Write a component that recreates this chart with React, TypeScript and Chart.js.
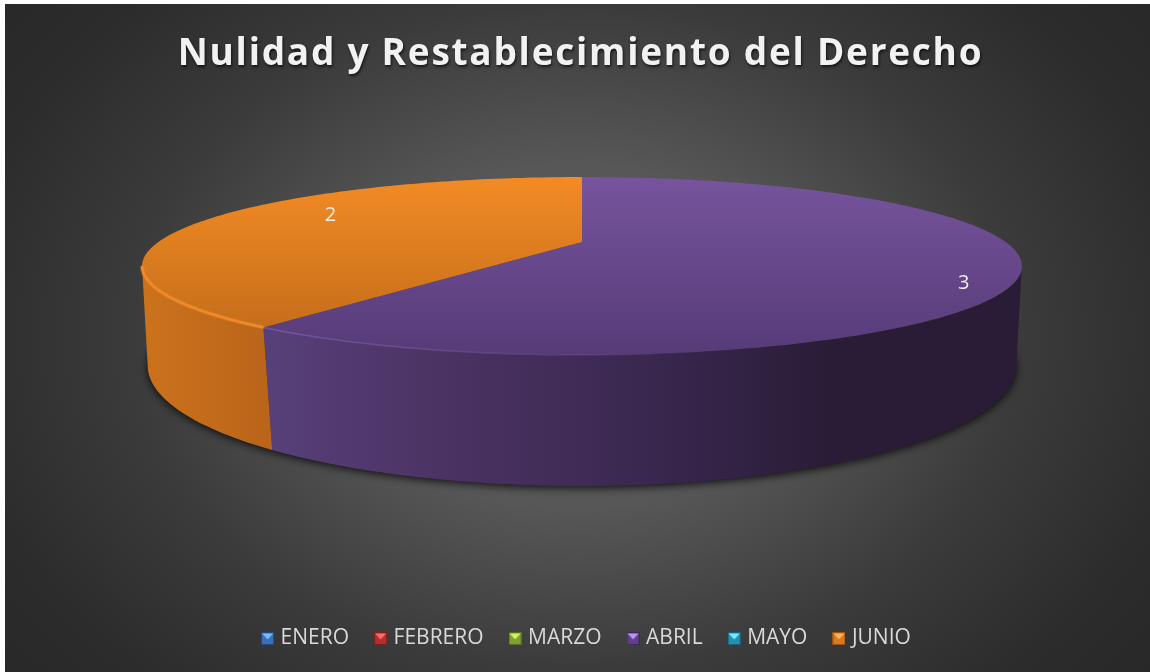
import React, { useEffect, useRef } from "react";
import { Chart, registerables } from "chart.js";

Chart.register(...registerables);

const months = ["ENERO", "FEBRERO", "MARZO", "ABRIL", "MAYO", "JUNIO"];
const counts = [0, 0, 0, 3, 0, 2];
const chartTitle = "Nulidad y Restablecimiento del Derecho";

const baseColors = ["#3a70b8", "#b03030", "#7fa030", "#5f3f8a", "#2a8fae", "#d87b20"];
const lightColors = ["#74bcff", "#ff6c6c", "#cdf266", "#bb94f0", "#74eaff", "#ffb254"];
const darkColors = ["#204a80", "#782020", "#54701e", "#3d2860", "#1a6078", "#985416"];
const topTopColors = ["#3a70b8", "#b03030", "#7fa030", "#77549d", "#2a8fae", "#f38b24"];
const topBottomColors = ["#2a5288", "#802020", "#5a7020", "#563b78", "#1e6a80", "#bd6919"];
const sideStops: string[][] = [
  ["#2a5288", "#1a3050"],
  ["#802020", "#501414"],
  ["#5a7020", "#384510"],
  ["#58407a", "#4a3262", "#3a2850", "#2a1c37", "#2a1c36"],
  ["#1e6a80", "#123f50"],
  ["#cb721c", "#ba651a"],
];
const rimStart = ["#5590e0", "#d05050", "#a0c850", "rgba(116,84,158,1)", "#50b0d0", "#ef8a2a"];
const rimEnd = ["#5590e0", "#d05050", "#a0c850", "rgba(116,84,158,0)", "#50b0d0", "#ef8a2a"];
const rimWidths = [1.5, 1.5, 1.5, 1.5, 1.5, 2.4];
const labelRadius = [0.8, 0.8, 0.8, 0.908, 0.8, 0.745];

const topFace = { cx: 582, cy: 242, rx: 423.6, ry: 82.5, k: 0.27 };
const bottomFace = { cx: 582, cy: 335.4, rx: 420.5, ry: 113, k: 0.25 };
const labelAngleShift = (11 * Math.PI) / 180;
const frontStart = Math.asin(topFace.k);
const frontEnd = Math.PI - frontStart;

type Face = typeof topFace;

function project(f: Face, a: number, r = 1) {
  const u = Math.cos(a) * r;
  const v = Math.sin(a) * r;
  const d = 1 - f.k * v;
  return { x: f.cx + (f.rx * u) / d, y: f.cy + (f.ry * v) / d };
}

function arcPoints(f: Face, a0: number, a1: number) {
  const n = Math.max(8, Math.ceil(Math.abs(a1 - a0) * 60));
  const pts = [];
  for (let i = 0; i <= n; i++) pts.push(project(f, a0 + ((a1 - a0) * i) / n));
  return pts;
}

function frontRange(arc: any): [number, number] | null {
  const a = arc.startAngle;
  const b = arc.endAngle;
  const a0 = Math.max(a, frontStart);
  const a1 = Math.min(b, frontEnd);
  return a1 > a0 ? [a0, a1] : null;
}

function marker(i: number) {
  const s = 13;
  const c = document.createElement("canvas");
  c.width = s;
  c.height = s;
  const g = c.getContext("2d")!;
  g.fillStyle = darkColors[i];
  g.fillRect(0, 0, s, s);
  g.fillStyle = baseColors[i];
  g.fillRect(1, 1, s - 2, s - 2);
  g.fillStyle = lightColors[i];
  g.beginPath();
  g.moveTo(1, 1.5);
  g.lineTo(s - 1, 1.5);
  g.lineTo(s / 2, 7.5);
  g.closePath();
  g.fill();
  return c;
}

const piePlugin = {
  id: "pie3d",
  beforeDraw(chart: any) {
    const ctx: CanvasRenderingContext2D = chart.ctx;
    ctx.save();
    ctx.beginPath();
    ctx.rect(5, 4, chart.width - 5, chart.height - 4);
    ctx.clip();
    ctx.translate(575, 336);
    ctx.scale(1, 0.75);
    const bg = ctx.createRadialGradient(0, 0, 0, 0, 0, 760);
    bg.addColorStop(0, "#5c5c5c");
    bg.addColorStop(0.3, "#575757");
    bg.addColorStop(0.585, "#3b3b3b");
    bg.addColorStop(0.82, "#2c2c2c");
    bg.addColorStop(1, "#272727");
    ctx.fillStyle = bg;
    ctx.fillRect(-700, -700, 1400, 1400);
    ctx.restore();

    if (!chart.$wrapped) {
      chart.$wrapped = true;
      const title = chart.titleBlock;
      const tDraw = title.draw.bind(title);
      title.draw = () => {
        ctx.save();
        (ctx as any).letterSpacing = "1.75px";
        ctx.shadowColor = "rgba(0,0,0,0.65)";
        ctx.shadowBlur = 3;
        ctx.shadowOffsetX = 1;
        ctx.shadowOffsetY = 2;
        tDraw();
        ctx.restore();
      };
      const legend = chart.legend;
      const lDraw = legend.draw.bind(legend);
      legend.draw = () => {
        ctx.save();
        ctx.translate(7.5, -13);
        lDraw();
        ctx.restore();
      };
    }
  },
  beforeDatasetsDraw(chart: any) {
    const ctx: CanvasRenderingContext2D = chart.ctx;
    const arcs = chart.getDatasetMeta(0).data;
    const active = arcs
      .map((arc: any, i: number) => ({ arc, i }))
      .filter((s: any) => s.arc.endAngle - s.arc.startAngle > 1e-6);

    ctx.save();
    ctx.shadowColor = "rgba(0,0,0,0.8)";
    ctx.shadowBlur = 9;
    ctx.shadowOffsetY = 2;
    ctx.fillStyle = "#222";
    ctx.beginPath();
    arcPoints(bottomFace, 0, Math.PI * 2).forEach((p, n) => (n ? ctx.lineTo(p.x, p.y) : ctx.moveTo(p.x, p.y)));
    ctx.closePath();
    ctx.fill();
    ctx.restore();

    for (const { arc, i } of active) {
      const range = frontRange(arc);
      if (!range) continue;
      const top = arcPoints(topFace, range[0], range[1]);
      const bot = arcPoints(bottomFace, range[0], range[1]);
      const xs = top.map((p) => p.x);
      const grad = ctx.createLinearGradient(Math.min(...xs), 0, Math.max(...xs), 0);
      const stops = sideStops[i];
      stops.forEach((c, n) => grad.addColorStop(n / (stops.length - 1), c));
      ctx.fillStyle = grad;
      ctx.beginPath();
      top.forEach((p, n) => (n ? ctx.lineTo(p.x, p.y) : ctx.moveTo(p.x, p.y)));
      bot.reverse().forEach((p) => ctx.lineTo(p.x, p.y));
      ctx.closePath();
      ctx.fill();
    }

    for (const { arc, i } of active) {
      const grad = ctx.createLinearGradient(0, 177, 0, 355);
      grad.addColorStop(0, topTopColors[i]);
      grad.addColorStop(1, topBottomColors[i]);
      ctx.fillStyle = grad;
      ctx.beginPath();
      ctx.moveTo(topFace.cx, topFace.cy);
      arcPoints(topFace, arc.startAngle, arc.endAngle).forEach((p) => ctx.lineTo(p.x, p.y));
      ctx.closePath();
      ctx.fill();
    }

    for (const { arc, i } of active) {
      const range = frontRange(arc);
      if (!range) continue;
      const pts = arcPoints(topFace, range[0], range[1]);
      const xs = pts.map((p) => p.x);
      const grad = ctx.createLinearGradient(Math.min(...xs), 0, Math.max(...xs), 0);
      grad.addColorStop(0, rimStart[i]);
      grad.addColorStop(0.6, rimEnd[i]);
      ctx.save();
      ctx.strokeStyle = grad;
      ctx.lineWidth = rimWidths[i];
      ctx.shadowColor = rimStart[i];
      ctx.shadowBlur = i === 5 ? 2 : 0;
      ctx.lineCap = "butt";
      ctx.beginPath();
      pts.forEach((p, n) => (n ? ctx.lineTo(p.x, p.y) : ctx.moveTo(p.x, p.y)));
      ctx.stroke();
      ctx.restore();
    }

    ctx.save();
    ctx.fillStyle = "#eeeeee";
    ctx.font = "20px 'Open Sans'";
    ctx.textAlign = "center";
    ctx.textBaseline = "middle";
    for (const { arc, i } of active) {
      const mid = (arc.startAngle + arc.endAngle) / 2 + labelAngleShift;
      const p = project(topFace, mid, labelRadius[i]);
      ctx.fillText(String(counts[i]), p.x, p.y);
    }
    ctx.restore();
    return false;
  },
};

export default function App() {
  const ref = useRef<HTMLCanvasElement>(null);
  useEffect(() => {
    document.body.style.margin = "0";
    const chart = new Chart(ref.current!, {
      type: "pie",
      data: {
        labels: months,
        datasets: [{ data: counts, backgroundColor: baseColors, borderWidth: 0 }],
      },
      options: {
        responsive: false,
        animation: false,
        layout: { padding: { left: 11 } },
        plugins: {
          tooltip: { enabled: false },
          title: {
            display: true,
            text: chartTitle,
            color: "#f2f2f2",
            font: { family: "'Open Sans'", size: 37, weight: "bold" },
            padding: { top: 32, bottom: 10 },
          },
          legend: {
            position: "bottom",
            labels: {
              color: "#d9d9d9",
              font: { family: "'Open Sans'", size: 21 },
              usePointStyle: true,
              pointStyleWidth: 5,
              boxHeight: 13,
              padding: 29,
              generateLabels: () =>
                months.map((text, index) => ({
                  text,
                  index,
                  datasetIndex: 0,
                  hidden: false,
                  lineWidth: 0,
                  fontColor: "#d9d9d9",
                  pointStyle: marker(index),
                })),
            },
          },
        },
      } as any,
      plugins: [piePlugin as any],
    });
    return () => chart.destroy();
  }, []);
  return <canvas ref={ref} width={1150} height={672} style={{ display: "block" }} />;
}
